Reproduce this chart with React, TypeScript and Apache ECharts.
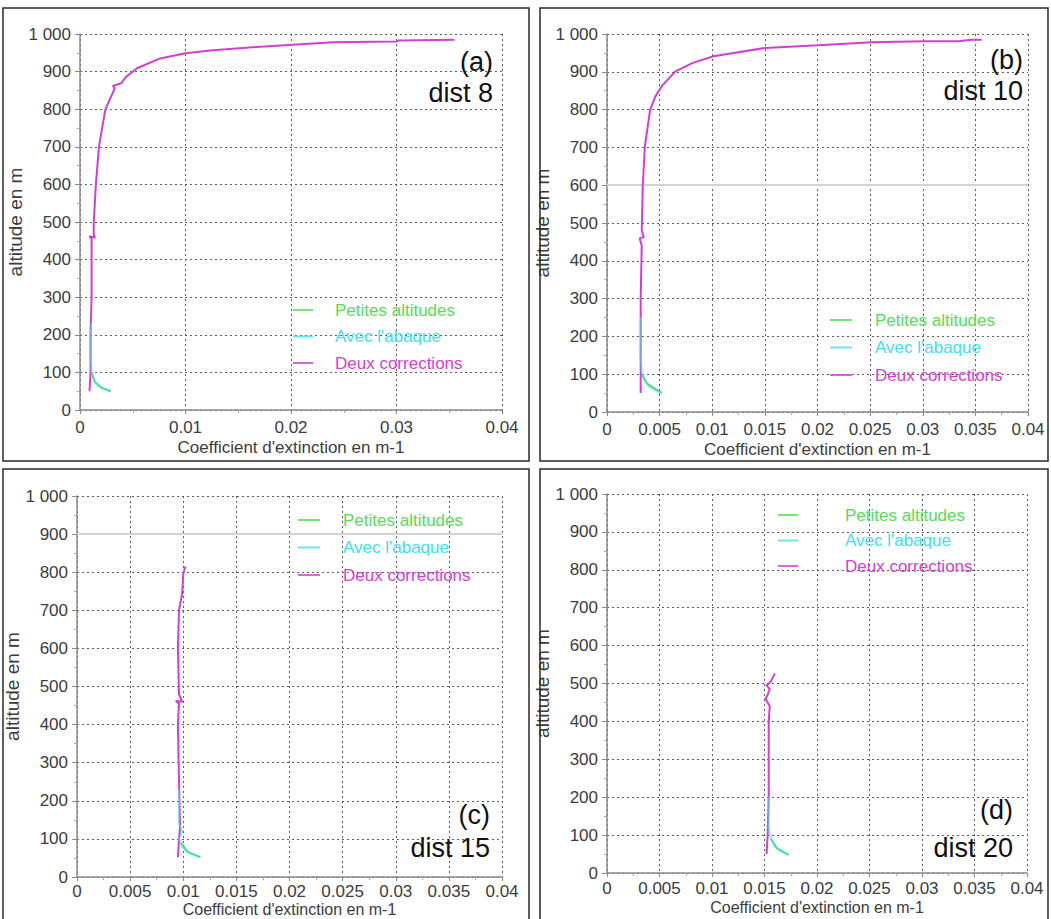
import React, { useEffect, useRef } from "react";
import * as echarts from "echarts";

// ---------- data ----------
const seriesNames = ["Petites altitudes", "Avec l'abaque", "Deux corrections"];
const seriesColors = ["#55dd55", "#3fe0f0", "#d23fd2"];

const panelLabels = ["(a)", "(b)", "(c)", "(d)"];
const panelDist = ["dist 8", "dist 10", "dist 15", "dist 20"];
const xIntervals = [0.01, 0.005, 0.005, 0.005];

// panel (a) dist 8
const petitesA = [[0.0011, 100], [0.0014, 75], [0.0020, 60], [0.0029, 50]];
const abaqueA = [[0.0010, 230], [0.0010, 150], [0.0011, 100], [0.0013, 80], [0.0017, 65], [0.0023, 55], [0.0029, 50]];
const deuxA = [
  [0.0009, 50], [0.0010, 100], [0.0010, 204], [0.0011, 300], [0.0011, 400], [0.0011, 455], [0.0009, 462],
  [0.0014, 458], [0.0013, 470], [0.0013, 497], [0.0015, 599], [0.0018, 701], [0.0024, 799], [0.0033, 856],
  [0.0031, 862], [0.0039, 869], [0.0044, 887], [0.0054, 909], [0.0076, 935], [0.0100, 949], [0.0126, 957],
  [0.0171, 966], [0.0240, 978], [0.0300, 980], [0.0302, 983], [0.0355, 985],
];

// panel (b) dist 10
const petitesB = [[0.0033, 100], [0.0038, 75], [0.0052, 50]];
const abaqueB = [[0.0032, 250], [0.0032, 150], [0.0033, 103], [0.0036, 85], [0.0040, 68], [0.0046, 57], [0.0052, 50]];
const deuxB = [
  [0.0032, 50], [0.0032, 150], [0.0032, 300], [0.0033, 440], [0.0031, 460], [0.0035, 462], [0.0033, 480],
  [0.0034, 600], [0.0036, 703], [0.0041, 800], [0.0046, 835], [0.0052, 862], [0.0065, 901], [0.0081, 923],
  [0.0101, 941], [0.0150, 963], [0.0201, 970], [0.0251, 978], [0.0302, 981], [0.0334, 981], [0.0346, 985],
  [0.0356, 985],
];

// panel (c) dist 15
const petitesC = [[0.0098, 90], [0.0104, 66], [0.0116, 52]];
const abaqueC = [[0.0096, 230], [0.0096, 140], [0.0099, 120], [0.0096, 100], [0.0099, 79], [0.0104, 66], [0.0110, 58], [0.0116, 52]];
const deuxC = [
  [0.0095, 52], [0.0096, 100], [0.0097, 131], [0.0096, 250], [0.0095, 400], [0.0096, 455], [0.0093, 462],
  [0.0099, 460], [0.0096, 480], [0.0095, 600], [0.0096, 700], [0.0099, 744], [0.0100, 796], [0.0102, 815],
];

// panel (d) dist 20
const petitesD = [[0.0156, 90], [0.0162, 65], [0.0173, 48]];
const abaqueD = [[0.0154, 200], [0.0154, 120], [0.01556, 96], [0.0160, 70], [0.0166, 57], [0.0173, 48]];
const deuxD = [
  [0.0152, 50], [0.0153, 100], [0.0154, 200], [0.0154, 300], [0.0154, 400], [0.0155, 440], [0.0151, 460],
  [0.0153, 470], [0.0155, 485], [0.0152, 495], [0.0156, 505], [0.0159, 522], [0.0160, 526],
];

const panelData = [
  [petitesA, abaqueA, deuxA],
  [petitesB, abaqueB, deuxB],
  [petitesC, abaqueC, deuxC],
  [petitesD, abaqueD, deuxD],
];

// faint grey horizontal lines visible in the reference (per panel)
const greyLines = [[], [600], [900], []];

// ---------- layout ----------
const grids = [
  { left: 80, top: 34, width: 422, height: 376 },
  { left: 607, top: 34, width: 421, height: 378 },
  { left: 77, top: 496, width: 425, height: 381 },
  { left: 607, top: 494, width: 420, height: 379 },
];
const yNameGaps = [49, 46, 47, 49];
const xNameGaps = [29, 29, 24, 26];
const xNameSizes = [17, 17, 16, 16];
const xLabelMargins = [9, 9, 6, 7];
const borders = [
  { x: 3, y: 8, w: 526, h: 453 },
  { x: 540, y: 8, w: 508, h: 453 },
  { x: 3, y: 469, w: 526, h: 470 },
  { x: 540, y: 469, w: 508, h: 470 },
];
const legends = [
  { left: 293, top: 301, itemWidth: 20, pad: 17, gap: 8.5 },
  { left: 830, top: 311, itemWidth: 22, pad: 18, gap: 9.5 },
  { left: 298, top: 511, itemWidth: 22, pad: 18, gap: 9.5 },
  { left: 778, top: 506, itemWidth: 20, pad: 42, gap: 7.5 },
];
const annots = [
  { x: 493, y1: 62, y2: 93 },
  { x: 1023, y1: 60, y2: 91 },
  { x: 490, y1: 815, y2: 848 },
  { x: 1013, y1: 810, y2: 848 },
];

const axisFont = "'Liberation Sans', Arial, sans-serif";
const textColor = "#3c3c3c";

export default function App() {
  const ref = useRef<HTMLDivElement>(null);

  useEffect(() => {
    if (!ref.current) return;
    const chart = echarts.init(ref.current, undefined, { renderer: "svg" });

    const xAxis: any[] = [];
    const yAxis: any[] = [];
    const series: any[] = [];
    const legend: any[] = [];
    const graphic: any[] = [];

    grids.forEach((g, i) => {
      xAxis.push({
        type: "value",
        gridIndex: i,
        min: 0,
        max: 0.04,
        interval: xIntervals[i],
        name: "Coefficient d'extinction en m-1",
        nameLocation: "middle",
        nameGap: xNameGaps[i],
        nameTextStyle: { color: textColor, fontSize: xNameSizes[i], fontFamily: axisFont },
        axisLine: { show: true, onZero: false, lineStyle: { color: "#8a8a8a", width: 1.5 } },
        axisTick: { show: true, inside: false, length: 4, lineStyle: { color: "#8a8a8a" } },
        minorTick: { show: true, splitNumber: 2, length: 3, lineStyle: { color: "#aaaaaa" } },
        axisLabel: {
          color: textColor,
          fontSize: 17,
          fontFamily: axisFont,
          margin: xLabelMargins[i],
          formatter: (v: number) => String(Number(v.toFixed(3))),
        },
        splitLine: { show: true, lineStyle: { color: "#5e5e5e", type: [2, 3], width: 1 } },
      });
      yAxis.push({
        type: "value",
        gridIndex: i,
        min: 0,
        max: 1000,
        interval: 100,
        name: "altitude en m",
        nameLocation: "middle",
        nameGap: yNameGaps[i],
        nameTextStyle: { color: textColor, fontSize: 19, fontFamily: axisFont },
        axisLine: { show: true, lineStyle: { color: "#8a8a8a", width: 1.5 } },
        axisTick: { show: true, inside: false, length: 5, lineStyle: { color: "#8a8a8a" } },
        minorTick: { show: true, splitNumber: 2, length: 3, lineStyle: { color: "#aaaaaa" } },
        axisLabel: {
          color: textColor,
          fontSize: 17,
          fontFamily: axisFont,
          margin: 9,
          formatter: (v: number) => (v === 1000 ? "1 000" : String(v)),
        },
        splitLine: { show: true, lineStyle: { color: "#5e5e5e", type: [2, 3], width: 1 } },
      });

      panelData[i].forEach((d, k) => {
        const s: any = {
          type: "line",
          name: seriesNames[k],
          xAxisIndex: i,
          yAxisIndex: i,
          data: d,
          symbol: "none",
          showSymbol: false,
          z: k === 1 ? 4 : k === 2 ? 3 : 2,
          color: seriesColors[k],
          lineStyle: { color: seriesColors[k], width: 2, opacity: k === 1 ? 0.6 : 1 },
        };
        if (k === 2 && greyLines[i].length) {
          s.markLine = {
            silent: true,
            symbol: "none",
            label: { show: false },
            lineStyle: { color: "#d4d4d4", width: 2, type: "solid" },
            data: greyLines[i].map((v) => ({ yAxis: v })),
            z: 1,
          };
        }
        series.push(s);
      });

      const L = legends[i];
      legend.push({
        orient: "vertical",
        left: L.left,
        top: L.top,
        icon: "rect",
        itemWidth: L.itemWidth,
        itemHeight: 2,
        itemGap: L.gap,
        padding: 0,
        selectedMode: false,
        data: seriesNames.map((n, k) => ({
          name: n,
          itemStyle: { color: seriesColors[k], opacity: 0.8 },
          textStyle: {
            color: seriesColors[k],
            fontSize: 17,
            fontFamily: axisFont,
            lineHeight: 18,
            padding: [0, 0, 0, L.pad],
          },
        })),
      });

      const b = borders[i];
      graphic.push({
        type: "rect",
        shape: { x: b.x, y: b.y, width: b.w, height: b.h },
        style: { fill: "none", stroke: "#2a2a2a", lineWidth: 1.5 },
        silent: true,
        z: 100,
      });
      const a = annots[i];
      [panelLabels[i], panelDist[i]].forEach((t, j) => {
        graphic.push({
          type: "text",
          x: a.x,
          y: j === 0 ? a.y1 : a.y2,
          style: {
            text: t,
            fontSize: 27,
            fontFamily: "'Liberation Sans', Arial, sans-serif",
            fill: "#111",
            align: "right",
            verticalAlign: "middle",
          },
          z: 100,
        });
      });
    });

    chart.setOption({
      animation: false,
      backgroundColor: "#ffffff",
      grid: grids.map((g) => ({ ...g, containLabel: false, outerBoundsMode: "none" })),
      xAxis,
      yAxis,
      series,
      legend,
      graphic,
    });

    return () => chart.dispose();
  }, []);

  return (
    <div
      ref={ref}
      style={{ position: "fixed", left: 0, top: 0, width: 1051, height: 919, background: "#fff" }}
    />
  );
}
